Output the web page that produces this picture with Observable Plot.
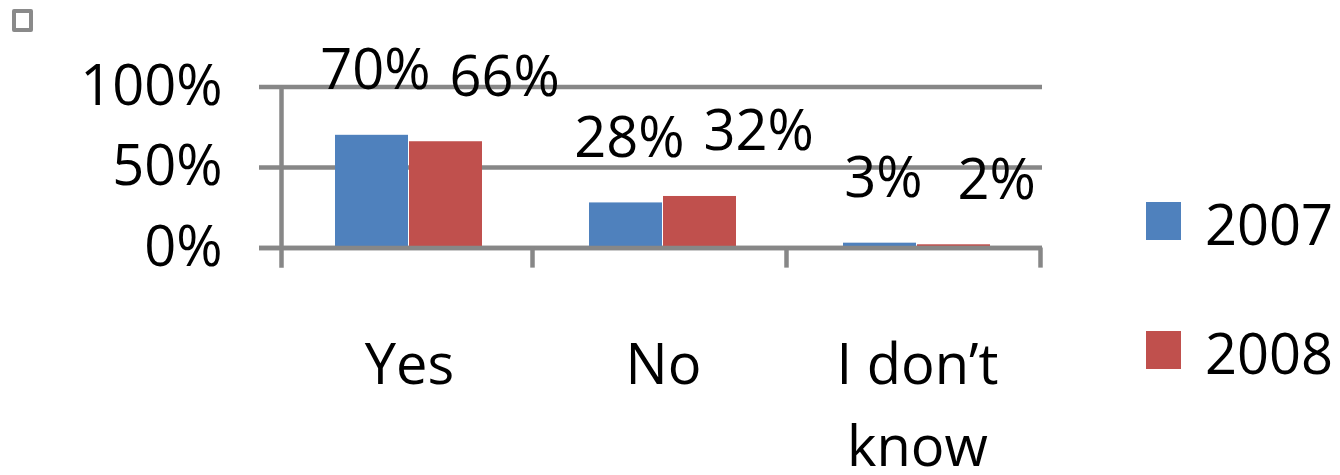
<!DOCTYPE html>
<html>
<head>
<meta charset="utf-8">
<script src="https://cdn.jsdelivr.net/npm/d3@7"></script>
<script src="https://cdn.jsdelivr.net/npm/@observablehq/plot@0.6"></script>
<style>
  html, body { margin: 0; padding: 0; background: #fff; }
  #wrap { position: relative; width: 1340px; height: 475px; overflow: hidden; font-family: "Open Sans", sans-serif; }
  #wrap svg { position: absolute; left: 0; top: 0; }
  .corner { position: absolute; left: 12px; top: 9px; width: 21px; height: 23px; box-sizing: border-box; border: 4px solid #8a8a8a; border-radius: 2px; }
  .sw { position: absolute; width: 35px; height: 38px; }
  .lt { position: absolute; font-size: 56px; line-height: 56px; color: #000; white-space: nowrap; }
</style>
</head>
<body>
<div id="wrap"></div>
<script>
// ---- data ----
const categories = ["Yes", "No", "I don’t know"];
const categoryLabels = ["Yes", "No", "I don’t\nknow"];
const series = ["2007", "2008"];
const values2007 = [0.70, 0.28, 0.03];
const values2008 = [0.66, 0.32, 0.02];
const yTicks = [0, 0.5, 1];
const colors = ["#4F81BD", "#C0504D"];
const gridColor = "#878787";

const pct = d3.format(".0%");
const data2007 = categories.map((c, i) => ({category: c, value: values2007[i]}));
const data2008 = categories.map((c, i) => ({category: c, value: values2008[i]}));

const chart = Plot.plot({
  width: 1340,
  height: 475,
  marginLeft: 259,
  marginRight: 298,
  marginTop: 86.5,
  marginBottom: 227.5,
  x: {domain: categories, range: [277, 1040], padding: 0, axis: null},
  y: {domain: [0, 1], axis: null},
  style: {fontFamily: "Open Sans", fontSize: "56px", background: "transparent", color: "#000"},
  marks: [
    Plot.ruleY(yTicks, {stroke: gridColor, strokeWidth: 4.5}),
    Plot.barY(data2007, {x: "category", y: "value", fill: colors[0], insetLeft: 57, insetRight: 124}),
    Plot.barY(data2008, {x: "category", y: "value", fill: colors[1], insetLeft: 131, insetRight: 50}),
    Plot.ruleY([0], {stroke: gridColor, strokeWidth: 4.5}),
    Plot.ruleX(categories, {x: d => d, dx: 127, y1: () => 0, y2: () => -0.125, stroke: gridColor, strokeWidth: 4.5}),
    Plot.ruleX([categories[0]], {x: d => d, dx: -124, y1: () => 1, y2: () => -0.125, stroke: gridColor, strokeWidth: 4.5}),
    Plot.axisY({ticks: yTicks, tickFormat: pct, tickSize: 0, tickPadding: 37, fontSize: 56, label: null}),
    Plot.text(data2007, {x: "category", y: "value", text: d => pct(d.value), dx: -30, dy: -64, lineAnchor: "middle", fontSize: 56, fill: "#000"}),
    Plot.text(data2008, {x: "category", y: "value", text: d => pct(d.value), textAnchor: "start", dx: 44, dy: -64, lineAnchor: "middle", fontSize: 56, fill: "#000"}),
    Plot.text(categories, {x: d => d, text: (d, i) => categoryLabels[i], frameAnchor: "bottom", lineAnchor: "top", dx: 4, dy: 78, lineHeight: 1.46, fontSize: 56, fill: "#000"})
  ]
});

const wrap = document.getElementById("wrap");
wrap.appendChild(chart);

const corner = document.createElement("div");
corner.className = "corner";
wrap.appendChild(corner);

// legend
const legendTops = [202, 331];
series.forEach((s, i) => {
  const sw = document.createElement("div");
  sw.className = "sw";
  sw.style.left = "1146px";
  sw.style.top = legendTops[i] + "px";
  sw.style.background = colors[i];
  wrap.appendChild(sw);
  const t = document.createElement("div");
  t.className = "lt";
  t.style.left = "1205px";
  t.style.top = (legendTops[i] - 7) + "px";
  t.textContent = s;
  wrap.appendChild(t);
});
</script>
</body>
</html>
